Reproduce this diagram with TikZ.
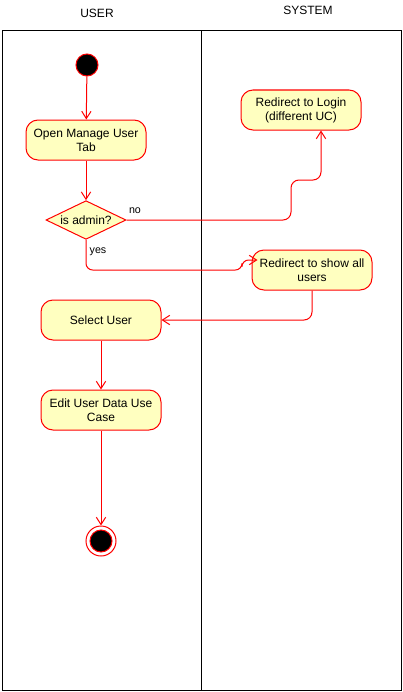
\documentclass[tikz,border=0pt]{standalone}
\usepackage{fontspec}
\setmainfont{Liberation Sans}
\usetikzlibrary{shapes.geometric,arrows.meta,calc}
\definecolor{actfill}{HTML}{FFFFC0}
\definecolor{actred}{HTML}{FF0000}
\begin{document}
\begin{tikzpicture}[x=0.75pt,y=-0.75pt,
  font=\fontsize{9pt}{10.5pt}\selectfont,
  activity/.style={draw=actred,fill=actfill,line width=0.75pt,rounded corners=9pt,
    minimum width=90pt,minimum height=30pt,align=center,inner sep=1pt},
  decision/.style={draw=actred,fill=actfill,line width=0.75pt,diamond,aspect=2,
    minimum width=60pt,minimum height=29pt,inner sep=0pt},
  flow/.style={draw=actred,line width=0.75pt,-{Straight Barb[length=5.5pt,width=7pt]}},
  lane/.style={draw=black,line width=0.75pt},
  small/.style={font=\fontsize{8pt}{9pt}\selectfont}]
\useasboundingbox (0,0) rectangle (403,692);
% swimlanes
\draw[lane] (2,31) rectangle (401,690);
\draw[lane] (201,31) -- (201,690);
\node (userlbl) at (97,13) {USER};
\node (syslbl) at (308,10) {SYSTEM};
% nodes
\node[circle,draw=actred,fill=black,line width=0.75pt,minimum size=16.5pt,inner sep=0pt] (start) at (87,65) {};
\node[activity] (open) at (86,140) {Open Manage User\\Tab};
\node[decision] (admin) at (86,220) {is admin?};
\node[activity] (login) at (301,110) {Redirect to Login\\(different UC)};
\node[activity] (show) at (312,270) {Redirect to show all\\users};
\node[activity] (select) at (101,320) {Select User};
\node[activity] (edit) at (101,410) {Edit User Data Use\\Case};
\node[circle,draw=actred,fill=white,line width=0.75pt,minimum size=22.5pt,inner sep=0pt] (final) at (101,541) {};
\node[circle,draw=actred,fill=black,line width=0.75pt,minimum size=16.5pt,inner sep=0pt] (finalin) at (101,541) {};
% labels
\node[small] (nolbl) at (135,211) {no};
\node[small] (yeslbl) at (98,252) {yes};
% connectors
\draw[flow] (start) -- (open);
\draw[flow] (open) -- (admin);
\draw[flow,rounded corners=6pt] (admin.east) -- (291,220) -- (291,180) -- (321,180) -- ($(login.south)+(20,0)$);
\draw[flow,rounded corners=5pt] (admin.south) -- (86,270) -- (242,270) -- (242,260) -- ($(show.west)+(6,-10)$);
\draw[flow,rounded corners=6pt] (show.south) -- (312,320) -- (select.east);
\draw[flow] (select) -- (edit);
\draw[flow] (edit) -- (final);
\end{tikzpicture}
\end{document}
